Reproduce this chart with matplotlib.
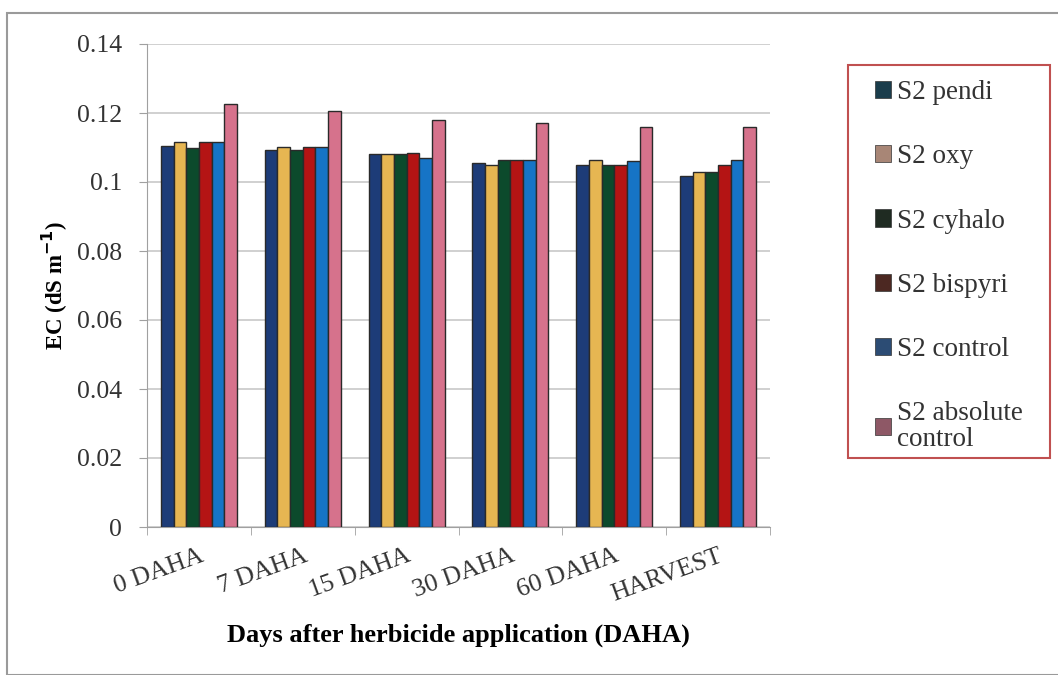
import matplotlib
matplotlib.use("Agg")
import matplotlib.pyplot as plt
import numpy as np
from matplotlib.patches import Patch, Rectangle

categories = ["0 DAHA", "7 DAHA", "15 DAHA", "30 DAHA", "60 DAHA", "HARVEST"]
series_names = ["S2 pendi", "S2 oxy", "S2 cyhalo", "S2 bispyri", "S2 control", "S2 absolute\ncontrol"]
pendi = [0.1104, 0.1093, 0.1081, 0.1054, 0.1049, 0.1017]
oxy = [0.1117, 0.1102, 0.1081, 0.1050, 0.1064, 0.1028]
cyhalo = [0.1099, 0.1093, 0.1080, 0.1064, 0.1049, 0.1028]
bispyri = [0.1117, 0.1102, 0.1083, 0.1064, 0.1049, 0.1049]
control = [0.1117, 0.1102, 0.1069, 0.1064, 0.1061, 0.1064]
absolute_control = [0.1226, 0.1207, 0.1180, 0.1172, 0.1160, 0.1160]
yticks = [0, 0.02, 0.04, 0.06, 0.08, 0.1, 0.12, 0.14]
ytick_labels = ["0", "0.02", "0.04", "0.06", "0.08", "0.1", "0.12", "0.14"]

series = [pendi, oxy, cyhalo, bispyri, control, absolute_control]
bar_colors = ["#1d3c78", "#e6b652", "#0c4a2c", "#b41414", "#1674c6", "#d6728c"]
legend_colors = ["#1b3d4c", "#a88676", "#1f2b22", "#4c2822", "#2c4c74", "#8e5866"]

SERIF = ['Liberation Serif', 'DejaVu Serif']
plt.rcParams['font.family'] = SERIF

W, H = 1058, 675
fig = plt.figure(figsize=(W / 100, H / 100), dpi=100)
fig.patches.append(Rectangle((7 / W, 0.0), 1.2, (H - 13) / H, transform=fig.transFigure,
                             fill=False, edgecolor="#9a9a9a", linewidth=1.5))
ax = fig.add_axes([147 / W, 1 - 527 / H, (770 - 147) / W, (527 - 44) / H])

x = np.arange(len(categories))
w = 0.122
for i, (vals, c) in enumerate(zip(series, bar_colors)):
    ax.bar(x + (i - 2.5) * w, vals, width=w, color=c, edgecolor="#2a2a2a", linewidth=1.0, zorder=3)

ax.set_xlim(-0.5, len(categories) - 0.5)
ax.set_ylim(0, 0.14)
ax.set_yticks(yticks)
ax.set_yticklabels(ytick_labels, fontsize=18.5)
ax.yaxis.grid(True, color="#c8c8c8", linewidth=1.2, zorder=0)
ax.set_axisbelow(True)
for s in ["top", "right"]:
    ax.spines[s].set_visible(False)
ax.spines["left"].set_color("#a0a0a0")
ax.spines["bottom"].set_color("#a0a0a0")
ax.tick_params(axis="y", length=6, color="#a0a0a0", pad=12, labelcolor="#333333")
ax.set_xticks(np.arange(len(categories) + 1) - 0.5, minor=True)
ax.tick_params(axis="x", which="minor", length=6, color="#a0a0a0")
ax.set_xticks(x)
ax.set_xticklabels(categories, rotation=20, ha="right", rotation_mode="anchor", fontsize=18.5, color="#333333")
ax.tick_params(axis="x", which="major", length=0, pad=13)

ax.set_ylabel("EC (dS m$^{\\mathbf{-1}}$)", fontsize=16.5, fontweight="bold", labelpad=5)
ax.set_xlabel("Days after herbicide application (DAHA)", fontsize=19, fontweight="bold", labelpad=13)

# legend frame (drawn separately to match the reference box)
fig.patches.append(Rectangle((848 / W, 1 - 458 / H), (1050 - 848) / W, (458 - 65) / H,
                             transform=fig.transFigure, fill=True, facecolor="white",
                             edgecolor="#c05050", linewidth=1.5, zorder=1))
handles = [Patch(facecolor=c, edgecolor="#333333", linewidth=0.5) for c in legend_colors]
leg = fig.legend(handles, series_names, loc="upper left", bbox_to_anchor=(875 / W, 1 - 80 / H),
                 prop={'family': SERIF, 'size': 19.5}, frameon=False, labelspacing=1.45,
                 handlelength=0.6, handleheight=0.6, handletextpad=0.2,
                 borderpad=0, borderaxespad=0)
leg.set_zorder(5)
for t in leg.get_texts():
    t.set_color("#333333")
    t.set_linespacing(1.03)

fig.savefig("out.png", dpi=100)
